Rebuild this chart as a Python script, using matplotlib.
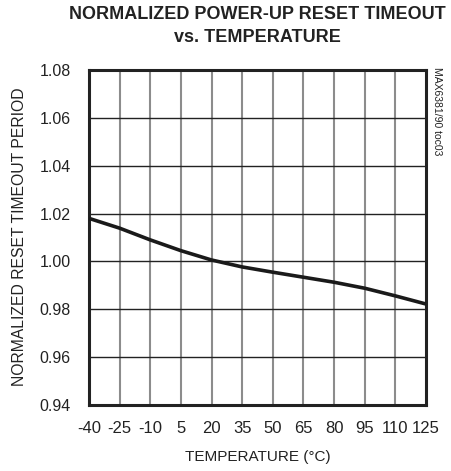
import matplotlib
matplotlib.use("Agg")
import matplotlib.pyplot as plt
from matplotlib import font_manager

names = {f.name for f in font_manager.fontManager.ttflist}
fam = ['Liberation Sans Narrow', 'Liberation Sans', 'DejaVu Sans'] if 'Liberation Sans Narrow' in names else ['Liberation Sans', 'DejaVu Sans']
plt.rcParams['font.family'] = fam

temps = [-40, -25, -10, 5, 20, 35, 50, 65, 80, 95, 110, 125]
period = [1.018, 1.0139, 1.009, 1.0045, 1.0006, 0.9977, 0.9955, 0.9934, 0.9913, 0.9888, 0.9856, 0.9822]
xticks = [-40, -25, -10, 5, 20, 35, 50, 65, 80, 95, 110, 125]
yticks = [0.94, 0.96, 0.98, 1.00, 1.02, 1.04, 1.06, 1.08]

W, H = 451, 471
fig = plt.figure(figsize=(W/100, H/100), dpi=100)
ax = fig.add_axes([89/W, (H-405)/H, 337/W, 335/H])

for x in xticks[1:-1]:
    ax.axvline(x, color='#8c8c8c', lw=1.5, zorder=1)
for y in yticks[1:-1]:
    ax.axhline(y, color='#222222', lw=1.0, zorder=1)

ax.plot(temps, period, color='#1a1a1a', lw=2.6, zorder=3, solid_capstyle='butt')

ax.set_xlim(-40, 125)
ax.set_ylim(0.94, 1.08)
ax.set_xticks(xticks)
ax.set_xticklabels([str(t) for t in xticks])
ax.set_yticks(yticks)
ax.set_yticklabels([f"{v:.2f}" for v in yticks])
ax.tick_params(length=0, labelsize=12, colors='#222222')
ax.tick_params(axis='y', labelsize=11.5, pad=13)
ax.tick_params(axis='x', pad=11.5)
for s in ax.spines.values():
    s.set_linewidth(2.2)
    s.set_color('#222222')

fig.text(257/W, 1-26/H, "NORMALIZED POWER-UP RESET TIMEOUT\nvs. TEMPERATURE",
         ha='center', va='center', fontsize=13, fontweight='bold', color='#222222',
         linespacing=1.4)
fig.text(258/W, 1-457/H, "TEMPERATURE (°C)", ha='center', va='center', fontsize=11, color='#222222')
fig.text(20/W, 1-237/H, "NORMALIZED RESET TIMEOUT PERIOD", ha='center', va='center',
         rotation=90, fontsize=11.3, color='#222222')
fig.text(437/W, 1-111/H, "MAX6381/90 toc03", ha='center', va='center', rotation=270,
         fontsize=7.5, color='#222222')

fig.savefig("out.png", dpi=100)
